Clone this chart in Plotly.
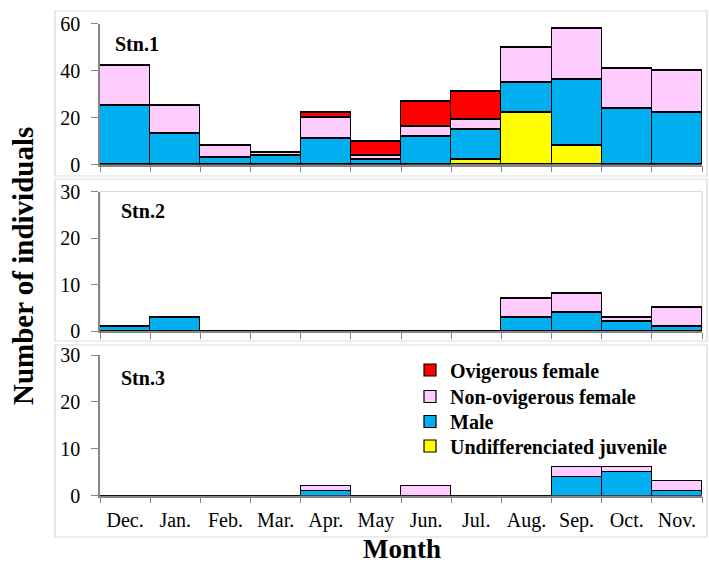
import plotly.graph_objects as go

months = ["Dec.", "Jan.", "Feb.", "Mar.", "Apr.", "May", "Jun.", "Jul.", "Aug.", "Sep.", "Oct.", "Nov."]

# Station 1
s1_juv  = [0, 0, 0, 0, 0, 0, 0, 2, 22, 8, 0, 0]
s1_male = [25, 13, 3, 4, 11, 2, 12, 13, 13, 28, 24, 22]
s1_nonov = [17, 12, 5, 1, 9, 2, 4, 4, 15, 22, 17, 18]
s1_ov   = [0, 0, 0, 0, 2, 6, 11, 12, 0, 0, 0, 0]

# Station 2
s2_juv  = [0] * 12
s2_male = [1, 3, 0, 0, 0, 0, 0, 0, 3, 4, 2, 1]
s2_nonov = [0, 0, 0, 0, 0, 0, 0, 0, 4, 4, 1, 4]
s2_ov   = [0] * 12

# Station 3
s3_juv  = [0] * 12
s3_male = [0, 0, 0, 0, 1, 0, 0, 0, 0, 4, 5, 1]
s3_nonov = [0, 0, 0, 0, 1, 0, 2, 0, 0, 2, 1, 2]
s3_ov   = [0] * 12

series_names = ["Undifferenciated juvenile", "Male", "Non-ovigerous female", "Ovigerous female"]
colors = ["#FFFF00", "#00B0F0", "#FFCCFF", "#FF0000"]
legend_ids = ["legend4", "legend3", "legend2", "legend"]
legend_rows = [446, 421.5, 396.5, 370]   # centre of each legend row (px from top)
stations = [
    ("Stn.1", [s1_juv, s1_male, s1_nonov, s1_ov], 60, 20),
    ("Stn.2", [s2_juv, s2_male, s2_nonov, s2_ov], 30, 10),
    ("Stn.3", [s3_juv, s3_male, s3_nonov, s3_ov], 30, 10),
]

W, H = 709, 567
def py(p):
    return 1 - p / H
def px(p):
    return p / W

xdom = [px(100), px(702)]
ydoms = [[py(164.5), py(23.5)], [py(331), py(191.5)], [py(495.5), py(355)]]

FONT = "Liberation Serif"
fig = go.Figure()

for i, (label, data, ymax, dtick) in enumerate(stations):
    xa = "x" if i == 0 else f"x{i+1}"
    ya = "y" if i == 0 else f"y{i+1}"
    for j, (name, vals, col, lg) in enumerate(zip(series_names, data, colors, legend_ids)):
        fig.add_trace(go.Bar(
            x=months, y=vals, name=f"<b>{name}</b>",
            marker=dict(color=col, line=dict(color="#000000", width=1.2)),
            xaxis=xa, yaxis=ya, legend=lg,
            legendgroup=name, showlegend=(i == 2),
        ))
    axkey = "" if i == 0 else str(i + 1)
    fig.update_layout(**{
        f"xaxis{axkey}": dict(
            domain=xdom, anchor=ya, type="category", categoryorder="array", categoryarray=months,
            tickson="boundaries", ticks="outside", ticklen=6, tickcolor="#868686",
            showline=True, linecolor="#868686", linewidth=1.5, showgrid=False,
            showticklabels=(i == 2), tickfont=dict(family=FONT, size=20, color="#000000"),
            ticklabelstandoff=6, automargin=False,
            range=[-0.5, 11.5],
        ),
        f"yaxis{axkey}": dict(
            domain=ydoms[i], anchor=xa, range=[0, ymax], dtick=dtick,
            ticks="outside", ticklen=7, tickcolor="#868686",
            showline=True, linecolor="#868686", linewidth=1.5, showgrid=False, zeroline=False,
            tickfont=dict(family=FONT, size=20, color="#000000"),
            ticklabelstandoff=7, automargin=False,
        ),
    })

shapes = []
# outer frames of each sub-chart
for (y0, y1) in [(11, 176), (179, 341), (345, 537)]:
    shapes.append(dict(type="rect", xref="paper", yref="paper",
                       x0=px(55), x1=px(707), y0=py(y1), y1=py(y0),
                       line=dict(color="#D9D9D9", width=1.2), layer="below"))
# plot-area border for panel 2
shapes.append(dict(type="rect", xref="paper", yref="paper",
                   x0=xdom[0], x1=xdom[1], y0=ydoms[1][0], y1=ydoms[1][1],
                   line=dict(color="#D9D9D9", width=1.2), layer="below"))

annotations = [
    dict(text="<b>Stn.1</b>", x=px(113), y=py(44), xref="paper", yref="paper",
         xanchor="left", yanchor="middle", showarrow=False, font=dict(family=FONT, size=20, color="#000")),
    dict(text="<b>Stn.2</b>", x=px(119), y=py(211), xref="paper", yref="paper",
         xanchor="left", yanchor="middle", showarrow=False, font=dict(family=FONT, size=20, color="#000")),
    dict(text="<b>Stn.3</b>", x=px(119), y=py(378), xref="paper", yref="paper",
         xanchor="left", yanchor="middle", showarrow=False, font=dict(family=FONT, size=20, color="#000")),
    dict(text="<b>Number of individuals</b>", x=px(23), y=py(266), xref="paper", yref="paper",
         xanchor="center", yanchor="middle",
         textangle=-90, showarrow=False, font=dict(family=FONT, size=29, color="#000")),
    dict(text="<b>Month</b>", x=px(402), y=py(549), xref="paper", yref="paper",
         xanchor="center", yanchor="middle", borderpad=0,
         showarrow=False, font=dict(family=FONT, size=27, color="#000")),
]

legend_style = dict(font=dict(family=FONT, size=20, color="#000"), bgcolor="rgba(0,0,0,0)",
                    xanchor="left", yanchor="middle", x=px(410))
legend_layout = {}
for lg, row in zip(legend_ids, legend_rows):
    legend_layout[lg] = dict(legend_style, y=py(row))

fig.update_layout(
    width=W, height=H, margin=dict(l=0, r=0, t=0, b=0, autoexpand=False),
    paper_bgcolor="white", plot_bgcolor="white",
    barmode="stack", bargap=0,
    shapes=shapes, annotations=annotations,
    **legend_layout,
)

fig.write_html("out.html")
